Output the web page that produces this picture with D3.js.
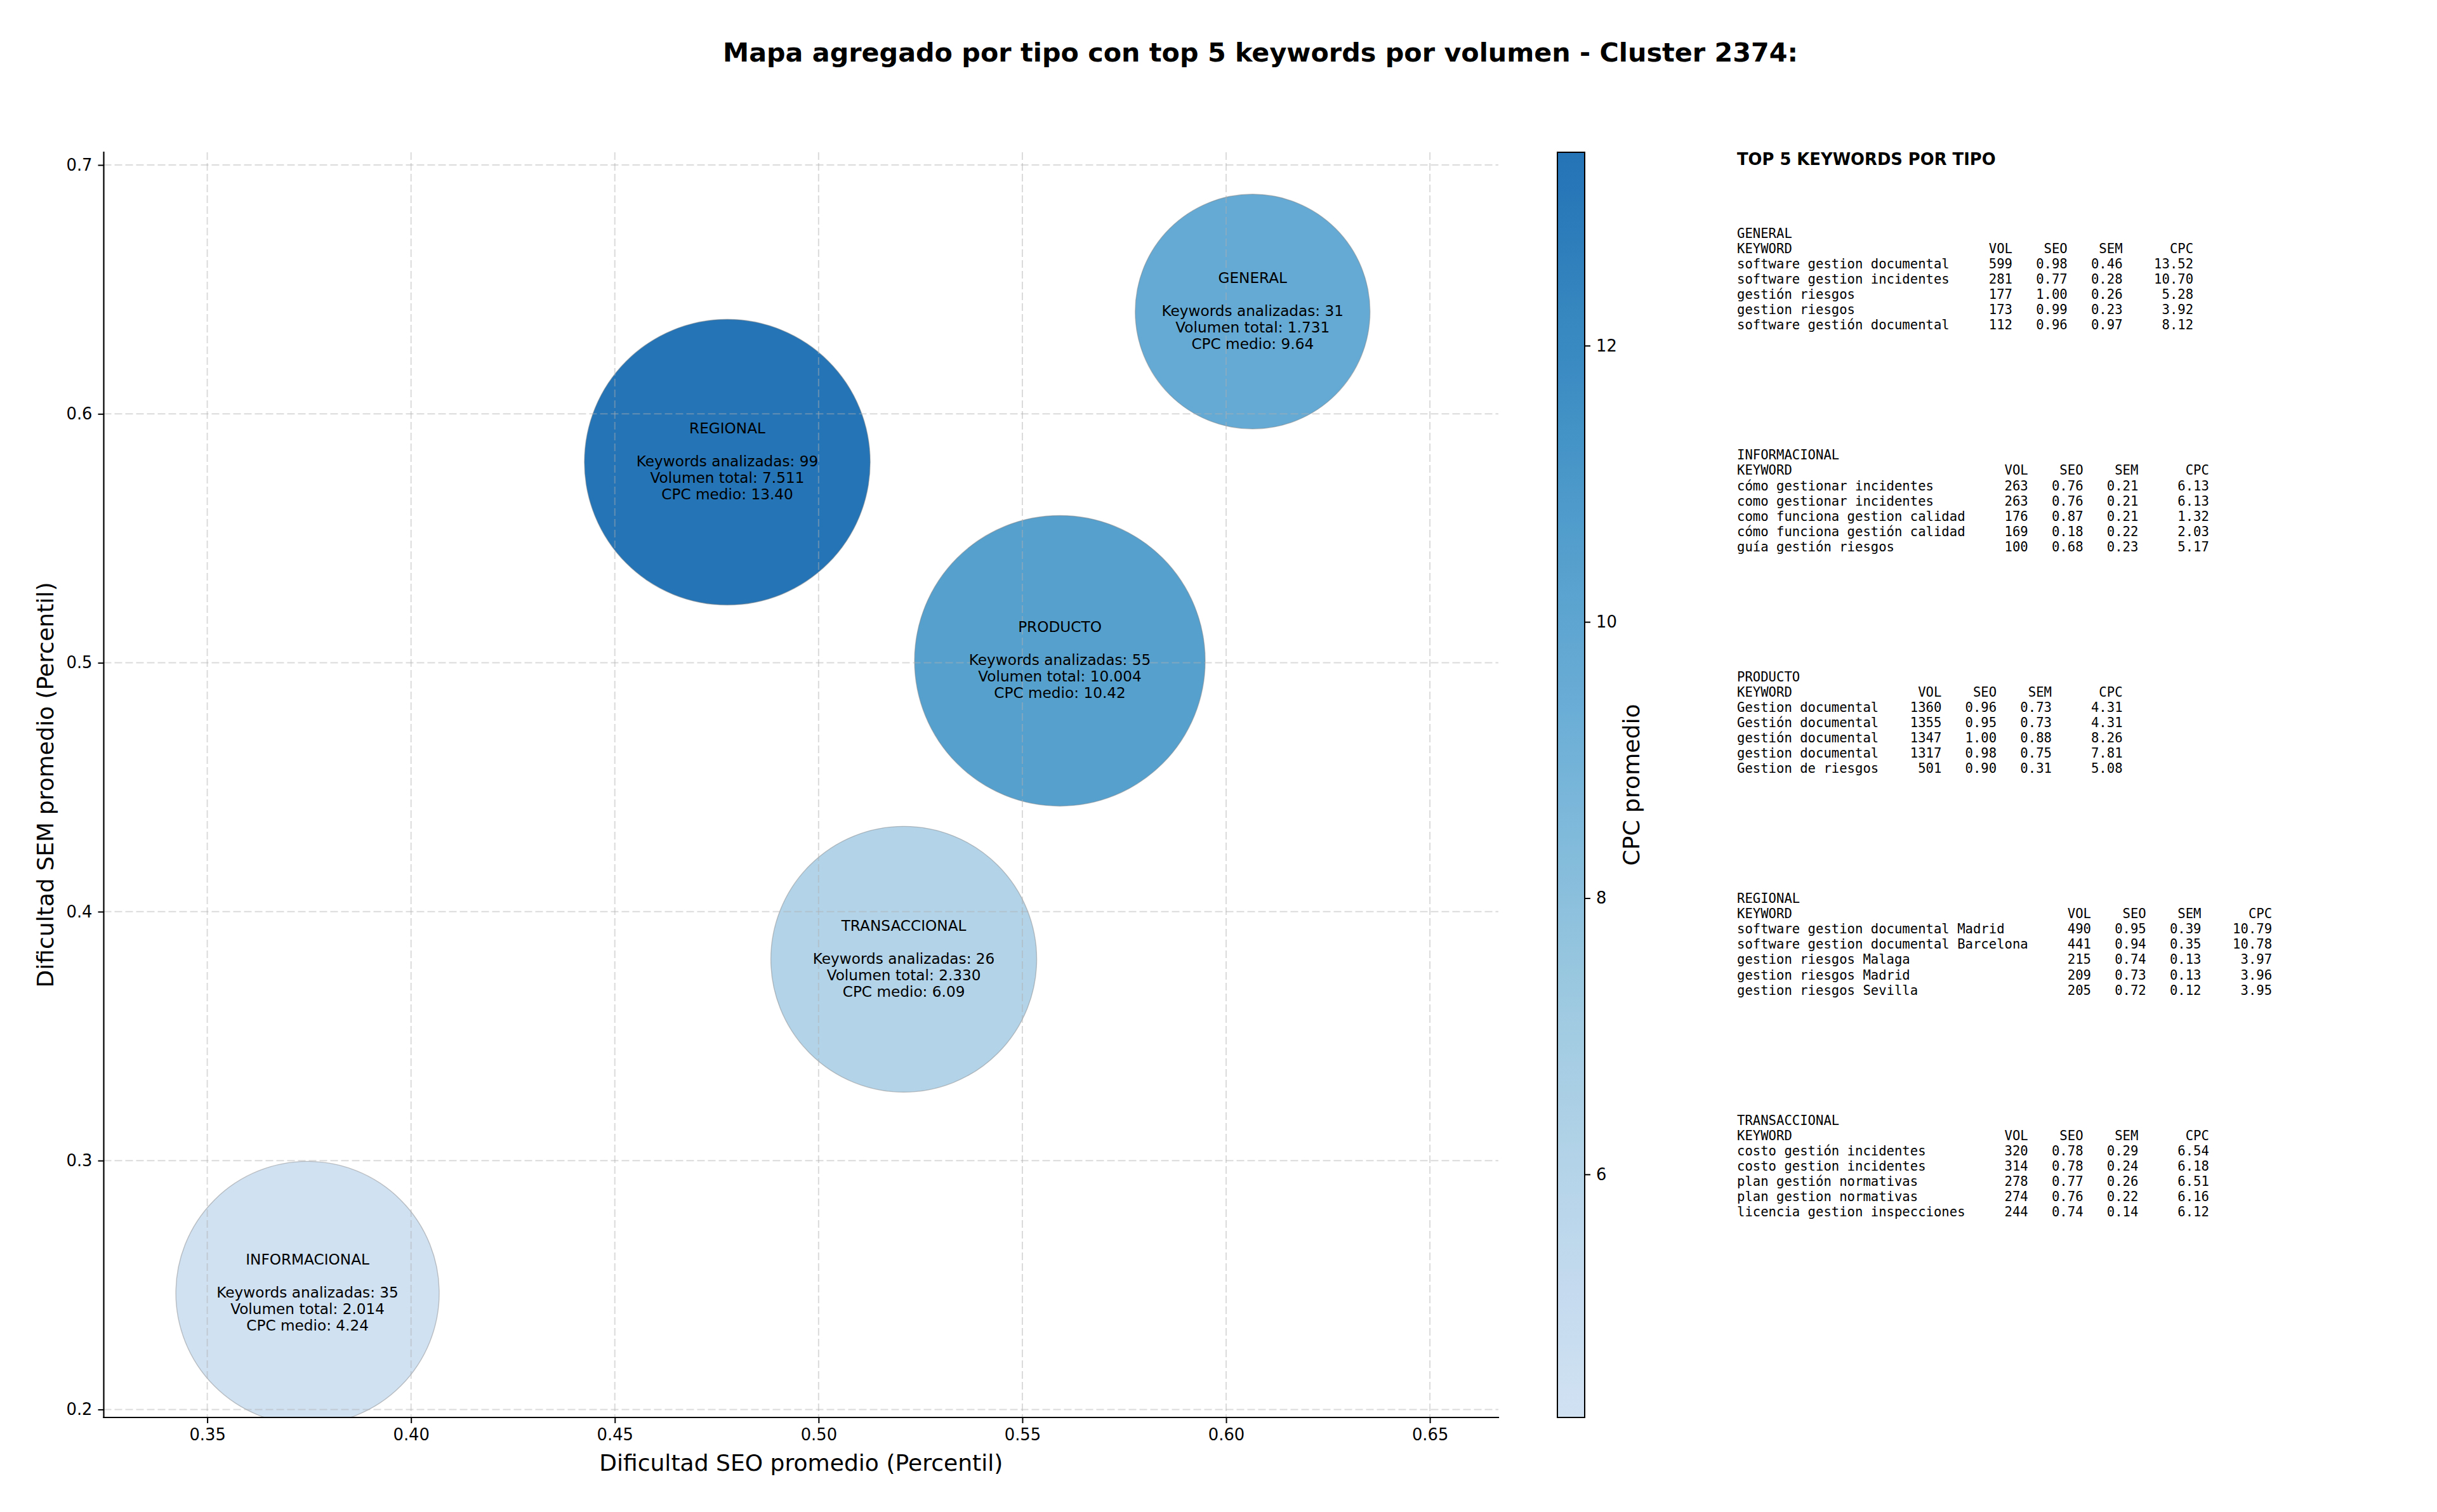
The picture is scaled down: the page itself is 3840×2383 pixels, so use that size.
<!DOCTYPE html>
<html>
<head>
<meta charset="utf-8">
<script src="https://cdn.jsdelivr.net/npm/d3@7"></script>
<style>
  html, body { margin: 0; padding: 0; background: #ffffff; }
  svg { display: block; }
</style>
</head>
<body>
<div id="chart"></div>
<script>
// ---------------- DATA ----------------
const tipos = ["GENERAL", "INFORMACIONAL", "PRODUCTO", "REGIONAL", "TRANSACCIONAL"];
const seoPromedio = [0.6065, 0.3746, 0.5592, 0.4776, 0.5209];
const semPromedio = [0.6411, 0.2468, 0.5008, 0.5806, 0.3809];
const keywordsAnalizadas = [31, 35, 55, 99, 26];
const volumenTotal = [1731, 2014, 10004, 7511, 2330];
const cpcMedio = [9.64, 4.24, 10.42, 13.40, 6.09];

const xTicks = [0.35, 0.40, 0.45, 0.50, 0.55, 0.60, 0.65];
const yTicks = [0.2, 0.3, 0.4, 0.5, 0.6, 0.7];
const cbTicks = [6, 8, 10, 12];

// top 5 keywords per type: [keyword, vol, seo, sem, cpc]
const topGeneral = [
  ["software gestion documental", 599, 0.98, 0.46, 13.52],
  ["software gestion incidentes", 281, 0.77, 0.28, 10.70],
  ["gestión riesgos", 177, 1.00, 0.26, 5.28],
  ["gestion riesgos", 173, 0.99, 0.23, 3.92],
  ["software gestión documental", 112, 0.96, 0.97, 8.12]
];
const topInformacional = [
  ["cómo gestionar incidentes", 263, 0.76, 0.21, 6.13],
  ["como gestionar incidentes", 263, 0.76, 0.21, 6.13],
  ["como funciona gestion calidad", 176, 0.87, 0.21, 1.32],
  ["cómo funciona gestión calidad", 169, 0.18, 0.22, 2.03],
  ["guía gestión riesgos", 100, 0.68, 0.23, 5.17]
];
const topProducto = [
  ["Gestion documental", 1360, 0.96, 0.73, 4.31],
  ["Gestión documental", 1355, 0.95, 0.73, 4.31],
  ["gestión documental", 1347, 1.00, 0.88, 8.26],
  ["gestion documental", 1317, 0.98, 0.75, 7.81],
  ["Gestion de riesgos", 501, 0.90, 0.31, 5.08]
];
const topRegional = [
  ["software gestion documental Madrid", 490, 0.95, 0.39, 10.79],
  ["software gestion documental Barcelona", 441, 0.94, 0.35, 10.78],
  ["gestion riesgos Malaga", 215, 0.74, 0.13, 3.97],
  ["gestion riesgos Madrid", 209, 0.73, 0.13, 3.96],
  ["gestion riesgos Sevilla", 205, 0.72, 0.12, 3.95]
];
const topTransaccional = [
  ["costo gestión incidentes", 320, 0.78, 0.29, 6.54],
  ["costo gestion incidentes", 314, 0.78, 0.24, 6.18],
  ["plan gestión normativas", 278, 0.77, 0.26, 6.51],
  ["plan gestion normativas", 274, 0.76, 0.22, 6.16],
  ["licencia gestion inspecciones", 244, 0.74, 0.14, 6.12]
];
const topPorTipo = [topGeneral, topInformacional, topProducto, topRegional, topTransaccional];

// ---------------- LAYOUT ----------------
const W = 3840, H = 2383;
const plot = { left: 163.5, right: 2361, top: 240, bottom: 2234 };
const cb = { left: 2454, right: 2497, top: 240, bottom: 2234 };
const FONT = "DejaVu Sans, Liberation Sans, sans-serif";
const MONO = "DejaVu Sans Mono, Liberation Mono, monospace";
const TICK = 9, PAD = 9;

const svg = d3.select("#chart").append("svg")
  .attr("width", W).attr("height", H)
  .attr("viewBox", `0 0 ${W} ${H}`);
svg.append("rect").attr("width", W).attr("height", H).attr("fill", "#ffffff");

const x = d3.scaleLinear().domain([0.3246, 0.6668]).range([plot.left, plot.right]);
const y = d3.scaleLinear().domain([0.1968, 0.7051]).range([plot.bottom, plot.top]);

// matplotlib "Blues" (linear segments), truncated to [0.2, 0.75]
const bluesStops = ["#f7fbff", "#deebf7", "#c6dbef", "#9ecae1", "#6baed6", "#4292c6", "#2171b5", "#08519c", "#08306b"];
const blues = d3.scaleLinear().domain(d3.range(9).map(i => i / 8)).range(bluesStops).interpolate(d3.interpolateRgb);
const cpcExtent = d3.extent(cpcMedio);
const cNorm = d3.scaleLinear().domain(cpcExtent).range([0.2, 0.74]);
const color = v => blues(cNorm(v));

// bubble radius from total volume
const r = d3.scaleLog().domain([1731, 2014, 10004]).range([185, 207.5, 229]);

// ---------------- TITLE ----------------
svg.append("text")
  .attr("x", 1986).attr("y", 97)
  .attr("text-anchor", "middle")
  .attr("font-family", FONT).attr("font-weight", "bold").attr("font-size", 41.3)
  .text("Mapa agregado por tipo con top 5 keywords por volumen - Cluster 2374:");

// ---------------- PLOT ----------------
const defs = svg.append("defs");
defs.append("clipPath").attr("id", "plotclip")
  .append("rect")
  .attr("x", plot.left).attr("y", plot.top)
  .attr("width", plot.right - plot.left).attr("height", plot.bottom - plot.top);

const data = tipos.map((t, i) => ({
  tipo: t, seo: seoPromedio[i], sem: semPromedio[i], n: keywordsAnalizadas[i],
  vol: volumenTotal[i], cpc: cpcMedio[i]
}));

const gBub = svg.append("g").attr("clip-path", "url(#plotclip)");
gBub.selectAll("circle").data(data).enter().append("circle")
  .attr("cx", d => x(d.seo))
  .attr("cy", d => y(d.sem))
  .attr("r", d => r(d.vol))
  .attr("fill", d => color(d.cpc))
  .attr("stroke", "#808080")
  .attr("stroke-opacity", 0.45)
  .attr("stroke-width", 1.4);

// grid (drawn above bubbles like matplotlib)
const gGrid = svg.append("g").attr("clip-path", "url(#plotclip)");
gGrid.selectAll("line.vx").data(xTicks).enter().append("line")
  .attr("x1", d => x(d)).attr("x2", d => x(d))
  .attr("y1", plot.top).attr("y2", plot.bottom)
  .attr("stroke", "#b0b0b0").attr("stroke-opacity", 0.45)
  .attr("stroke-width", 2).attr("stroke-dasharray", "12,5");
gGrid.selectAll("line.hy").data(yTicks).enter().append("line")
  .attr("x1", plot.left).attr("x2", plot.right)
  .attr("y1", d => y(d)).attr("y2", d => y(d))
  .attr("stroke", "#b0b0b0").attr("stroke-opacity", 0.45)
  .attr("stroke-width", 2).attr("stroke-dasharray", "12,5");

// bubble labels
const fmtVol = v => d3.format(",")(v).replace(/,/g, ".");
const gLab = svg.append("g");
data.forEach(d => {
  const cx = x(d.seo), cy = y(d.sem);
  const lines = [
    [d.tipo, -45],
    ["Keywords analizadas: " + d.n, 7],
    ["Volumen total: " + fmtVol(d.vol), 33],
    ["CPC medio: " + d.cpc.toFixed(2), 59]
  ];
  lines.forEach(([t, dy]) => {
    gLab.append("text")
      .attr("x", cx).attr("y", cy + dy)
      .attr("text-anchor", "middle")
      .attr("font-family", FONT).attr("font-size", 23.2)
      .attr("fill", "#000")
      .text(t);
  });
});

// axes
const xAxis = d3.axisBottom(x).tickValues(xTicks).tickFormat(d3.format(".2f"))
  .tickSize(TICK).tickPadding(PAD);
const yAxis = d3.axisLeft(y).tickValues(yTicks).tickFormat(d3.format(".1f"))
  .tickSize(TICK).tickPadding(PAD);

const gx = svg.append("g").attr("transform", `translate(0,${plot.bottom})`).call(xAxis);
const gy = svg.append("g").attr("transform", `translate(${plot.left},0)`).call(yAxis);
[gx, gy].forEach(g => {
  g.select(".domain").remove();
  g.selectAll(".tick line").attr("stroke", "#000").attr("stroke-width", 2);
  g.selectAll(".tick text").attr("font-family", FONT).attr("font-size", 25.8).attr("fill", "#000");
});
gx.selectAll(".tick text").attr("dy", "0.71em");
// spines (left & bottom)
svg.append("line").attr("x1", plot.left).attr("x2", plot.right)
  .attr("y1", plot.bottom).attr("y2", plot.bottom)
  .attr("stroke", "#000").attr("stroke-width", 2.2).attr("stroke-linecap", "square");
svg.append("line").attr("x1", plot.left).attr("x2", plot.left)
  .attr("y1", plot.top).attr("y2", plot.bottom)
  .attr("stroke", "#000").attr("stroke-width", 2.2).attr("stroke-linecap", "square");

svg.append("text")
  .attr("x", (plot.left + plot.right) / 2).attr("y", 2318)
  .attr("text-anchor", "middle")
  .attr("font-family", FONT).attr("font-size", 36.1)
  .text("Dificultad SEO promedio (Percentil)");
svg.append("text")
  .attr("transform", `translate(84,${(plot.top + plot.bottom) / 2}) rotate(-90)`)
  .attr("text-anchor", "middle")
  .attr("font-family", FONT).attr("font-size", 36.1)
  .text("Dificultad SEM promedio (Percentil)");

// ---------------- COLORBAR ----------------
const cbY = d3.scaleLinear().domain(cpcExtent).range([cb.bottom, cb.top]);
const grad = defs.append("linearGradient").attr("id", "cbgrad")
  .attr("x1", 0).attr("y1", 1).attr("x2", 0).attr("y2", 0);
d3.range(0, 1.0001, 0.02).forEach(t => {
  grad.append("stop").attr("offset", t)
    .attr("stop-color", color(cpcExtent[0] + t * (cpcExtent[1] - cpcExtent[0])));
});
svg.append("rect")
  .attr("x", cb.left).attr("y", cb.top)
  .attr("width", cb.right - cb.left).attr("height", cb.bottom - cb.top)
  .attr("fill", "url(#cbgrad)")
  .attr("stroke", "#000").attr("stroke-width", 2);
const cbAxis = d3.axisRight(cbY).tickValues(cbTicks).tickFormat(d3.format("d"))
  .tickSize(TICK).tickPadding(PAD);
const gcb = svg.append("g").attr("transform", `translate(${cb.right},0)`).call(cbAxis);
gcb.select(".domain").remove();
gcb.selectAll(".tick line").attr("stroke", "#000").attr("stroke-width", 2);
gcb.selectAll(".tick text").attr("font-family", FONT).attr("font-size", 25.8).attr("fill", "#000");
svg.append("text")
  .attr("transform", `translate(2583,${(cb.top + cb.bottom) / 2}) rotate(-90)`)
  .attr("text-anchor", "middle")
  .attr("font-family", FONT).attr("font-size", 36.1)
  .text("CPC promedio");

// ---------------- TEXT PANEL ----------------
const panelX = 2737;
svg.append("text")
  .attr("x", panelX).attr("y", 260)
  .attr("font-family", FONT).attr("font-weight", "bold").attr("font-size", 25.8)
  .text("TOP 5 KEYWORDS POR TIPO");

const lineH = 24.06, blockStart = 375, blockStep = 349.4;
tipos.forEach((t, i) => {
  const rows = topPorTipo[i];
  const w = d3.max(rows, row => row[0].length);
  const lines = [t,
    `${"KEYWORD".padEnd(w)} ${"VOL".padStart(7)} ${"SEO".padStart(6)} ${"SEM".padStart(6)} ${"CPC".padStart(8)}`];
  rows.forEach(row => {
    lines.push(`${row[0].padEnd(w)} ${String(row[1]).padStart(7)} ${row[2].toFixed(2).padStart(6)} ${row[3].toFixed(2).padStart(6)} ${row[4].toFixed(2).padStart(8)}`);
  });
  lines.forEach((ln, j) => {
    svg.append("text")
      .attr("x", panelX).attr("y", blockStart + i * blockStep + j * lineH)
      .attr("xml:space", "preserve")
      .style("white-space", "pre")
      .attr("font-family", MONO).attr("font-size", 20.6)
      .attr("fill", "#000")
      .text(ln);
  });
});
</script>
</body>
</html>
